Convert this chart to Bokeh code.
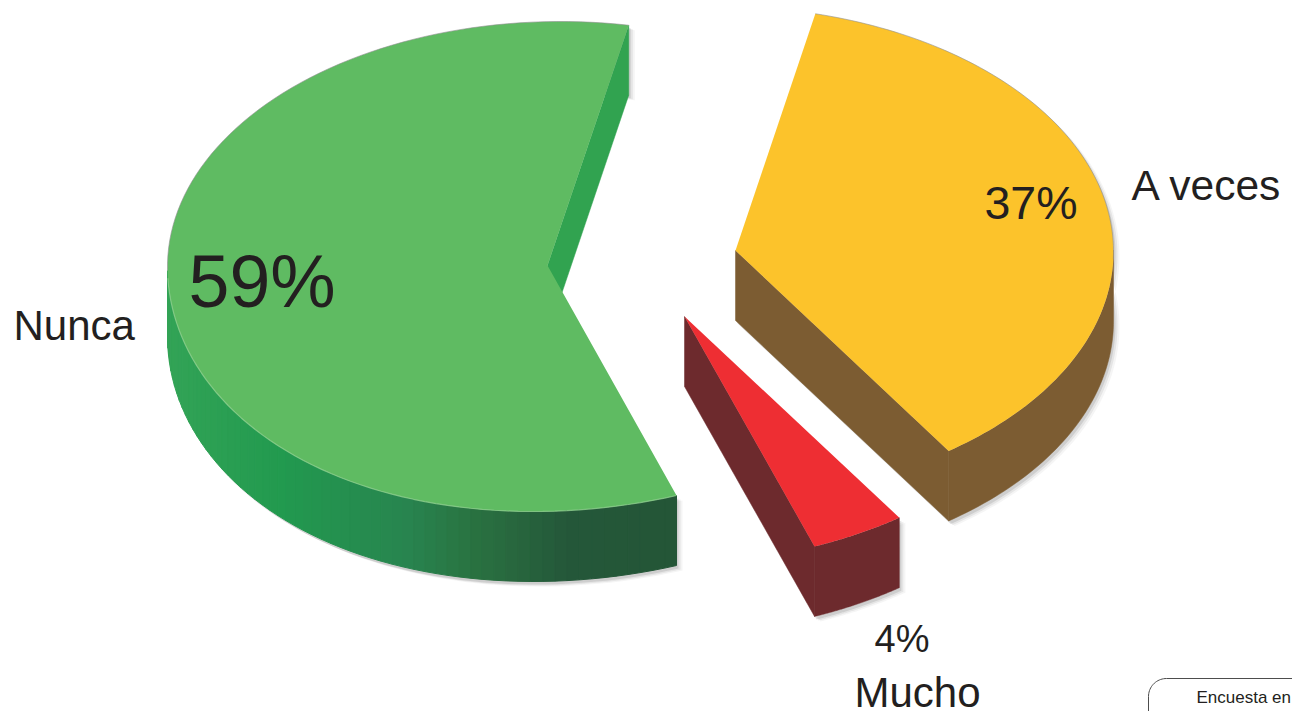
import numpy as np
from bokeh.plotting import figure
from bokeh.models import ColumnDataSource, Range1d
from bokeh.core.properties import value
from bokeh.embed import file_html
from bokeh.resources import INLINE

# ---- data ----
categories = ["Nunca", "A veces", "Mucho"]
shares = [59, 37, 4]
pct_labels = ["59%", "37%", "4%"]
note_text = "Encuesta en"

# ---- layout / style ----
W, H = 1292, 711
RX, RY, DEPTH = 393.0, 245.0, 70.0
sweep_k = [0.9925, 0.98, 0.98]      # slight foreshortening of each slice's sweep
lean = [27.0, 0.0, 0.0]             # how far the front rim drifts left at its lowest point
centers = [(560, 266), (720, 251), (670, 318)]
apexes = [(547, 265), (735, 250), (684, 316)]
starts = [80.0, 305.5, 291.5]
top_cols = ["#5fbb62", "#fcc32b", "#ee2e33"]
side_cols = ["#31a350", "#7c5c32", "#6d2a2d"]
green_x = [167, 280, 400, 470, 560, 676]
green_rgb = [(51, 164, 87), (34, 154, 79), (40, 133, 80), (42, 114, 65), (37, 88, 58), (36, 86, 55)]
INK = "#231f20"
BASE_FIX = 0.365

p = figure(width=W, height=H, x_range=Range1d(0, 1292), y_range=Range1d(711, 0),
           output_backend="svg", toolbar_location=None, min_border=0)
p.axis.visible = False
p.grid.visible = False
p.outline_line_color = None


def arc(i, n=120):
    cx, cy = centers[i]
    sweep = shares[i] / 100 * 360 * sweep_k[i]
    t = np.radians(np.linspace(starts[i], starts[i] + sweep, n))
    s = np.sin(t)
    drift = lean[i] * np.where(s < 0, s * s, 0.0)
    return cx + RX * np.cos(t) - drift, cy - RY * s


def silhouette(i):
    x, y = arc(i)
    ax, ay = apexes[i]
    lo = y + DEPTH
    sx = np.concatenate([[ax], x, x[::-1], [ax]])
    sy = np.concatenate([[ay], y, lo[::-1], [ay + DEPTH]])
    return sx, sy


# soft drop shadows
for dx, dy, a in [(6, 5, 0.06), (4, 4, 0.10), (2, 3, 0.16)]:
    for i in range(3):
        sx, sy = silhouette(i)
        if i == 0:
            x, y = arc(0)
            sx = np.concatenate([x, x[::-1]])
            sy = np.concatenate([y, (y + DEPTH)[::-1]])
        p.patch(sx + dx, sy + dy, fill_color="#555555", fill_alpha=a, line_color=None)

# Nunca: inner face, then outer wall in vertical bands
gx, gy = arc(0)
ax, ay = apexes[0]
p.patch([gx[0], gx[0], ax, ax], [gy[0], gy[0] + DEPTH, ay + DEPTH, ay],
        fill_color=side_cols[0], line_color=side_cols[0], line_width=0.5)
mask = gy > centers[0][1] - 2
wx, wy = gx[mask], gy[mask]
xs, ys, cols = [], [], []
r = [np.interp(wx, green_x, [c[k] for c in green_rgb]) for k in range(3)]
for k in range(len(wx) - 1):
    xs.append([wx[k], wx[k + 1], wx[k + 1], wx[k]])
    ys.append([wy[k], wy[k + 1], wy[k + 1] + DEPTH, wy[k] + DEPTH])
    cols.append("#%02x%02x%02x" % (int(r[0][k]), int(r[1][k]), int(r[2][k])))
p.patches("xs", "ys", fill_color="cols", line_color="cols", line_width=1,
          source=ColumnDataSource(dict(xs=xs, ys=ys, cols=cols)))

# A veces: inner face and outer wall
yx, yy = arc(1)
ax, ay = apexes[1]
p.patch([ax, ax, yx[0], yx[0]], [ay, ay + DEPTH, yy[0] + DEPTH, yy[0]],
        fill_color=side_cols[1], line_color=side_cols[1], line_width=0.5)
m = yy > centers[1][1] - 2
p.patch(np.concatenate([yx[m], yx[m][::-1]]),
        np.concatenate([yy[m], (yy[m] + DEPTH)[::-1]]),
        fill_color=side_cols[1], line_color=side_cols[1], line_width=0.5)

# Mucho: inner face and outer wall
rx_, ry_ = arc(2)
ax, ay = apexes[2]
p.patch([ax, ax, rx_[0], rx_[0]], [ay, ay + DEPTH, ry_[0] + DEPTH, ry_[0]],
        fill_color=side_cols[2], line_color=side_cols[2], line_width=0.5)
p.patch(np.concatenate([rx_, rx_[::-1]]), np.concatenate([ry_, (ry_ + DEPTH)[::-1]]),
        fill_color=side_cols[2], line_color=side_cols[2], line_width=0.5)

# top faces
for i in range(3):
    x, y = arc(i)
    ax, ay = apexes[i]
    p.patch(np.concatenate([[ax], x]), np.concatenate([[ay], y]), fill_color=top_cols[i], line_color=None)
    upper = y < centers[i][1] + 10
    p.line(x[upper], y[upper], line_color="#8f8f8f", line_width=1, line_alpha=0.6)

# light rim on green's front edge
m = (gy > centers[0][1] + 10)
p.line(gx[m], gy[m], line_color="#8fd08f", line_width=1.2, line_alpha=0.8)


# texts
def label(x, y, t, size, align="left"):
    p.text([x], [y - BASE_FIX * size], text=[t], text_font=value("Liberation Sans"),
           text_font_size=f"{size}px", text_color=INK, text_baseline="alphabetic", text_align=align)


label(188, 308, pct_labels[0], 73.5)
label(984, 219, pct_labels[1], 46.5)
label(874, 652, pct_labels[2], 38)
label(13, 340, categories[0], 42)
label(1131, 201, categories[1], 42.5)
label(854, 707, categories[2], 42)

# note box, cut off by the page edge
t = np.radians(np.linspace(180, 270, 20))
R = 18
bx = np.concatenate([[1148], 1148 + R + R * np.cos(t), [1292]])
by = np.concatenate([[711], 678 + R + R * np.sin(t), [678]])
p.line(bx, by, line_color="#4d4d4d", line_width=1)
label(1196, 703, note_text, 17)

open("out.html", "w").write(file_html(p, INLINE))
